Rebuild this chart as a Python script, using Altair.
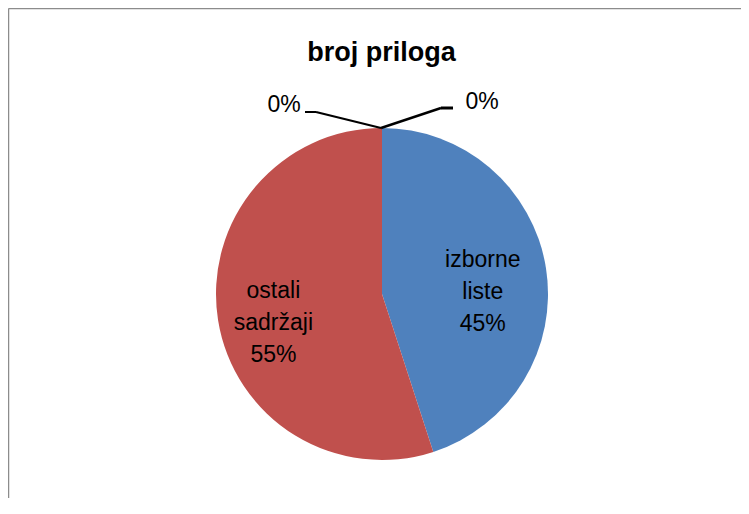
import math
import altair as alt
import pandas as pd

# ---- data ----
categories = ["izborne liste", "ostali sadržaji", "kategorija 3", "kategorija 4"]
values = [45, 55, 0, 0]
colors = ["#4F81BD", "#C0504D", "#9BBB59", "#8064A2"]
label_lines = [["izborne", "liste", "45%"], ["ostali", "sadržaji", "55%"], ["0%"], ["0%"]]
title_text = "broj priloga"

# ---- layout constants ----
W, H = 733, 490
CX, CY, R = 374, 286, 166
FONT = "Liberation Sans"

df = pd.DataFrame({
    "category": categories,
    "value": values,
    "idx": list(range(len(categories))),
    "label": ["\n".join(l) for l in label_lines],
})

theta_scale = alt.Scale(domain=[0, sum(values)])
color_scale = alt.Scale(domain=categories, range=colors)

base = alt.Chart(df)

arcs = base.mark_arc(outerRadius=R).encode(
    theta=alt.Theta("value:Q", stack=True, scale=theta_scale),
    color=alt.Color("category:N", scale=color_scale, legend=None),
    order=alt.Order("idx:Q"),
    x=alt.value(CX),
    y=alt.value(CY),
)

stacked = base.transform_stack(
    stack="value", groupby=[], as_=["t0", "t1"],
    sort=[alt.SortField(field="idx", order="ascending")],
).transform_calculate(mid="(datum.t0 + datum.t1) / 2")


def label(cat, r, dx, dy):
    return stacked.transform_filter(alt.datum.category == cat).mark_text(
        radius=r, dx=dx, dy=dy, fontSize=23, font=FONT, lineBreak="\n",
        lineHeight=32, baseline="middle", align="center", color="black",
    ).encode(
        theta=alt.Theta("mid:Q", scale=theta_scale),
        text="label:N",
        x=alt.value(CX),
        y=alt.value(CY),
    )


labels = [
    label(categories[0], 100, 2, -18),
    label(categories[1], 115, 5, -21),
    label(categories[2], R, -98, -23),
    label(categories[3], R, 100, -26),
]

# leader lines for the two 0% slices (relative to the top of the pie)
tx, ty = CX - 1, CY - R
seg = pd.DataFrame({
    "x": [tx - 76, tx - 65, tx, tx + 60],
    "y": [ty - 16, ty - 16, ty, ty - 20],
    "x2": [tx - 65, tx, tx + 60, tx + 72],
    "y2": [ty - 16, ty, ty - 20, ty - 20],
    "w": [2, 2, 2.5, 3],
})
leaders = alt.Chart(seg).mark_rule(color="black").encode(
    x=alt.X("x:Q", scale=None), y=alt.Y("y:Q", scale=None),
    x2="x2:Q", y2="y2:Q",
    strokeWidth=alt.StrokeWidth("w:Q", scale=None),
)

# chart-area frame (left and top edges visible in the reference)
frame_df = pd.DataFrame({"x": [0.5, 0.5], "y": [0.5, 0.5], "x2": [0.5, W], "y2": [H, 0.5]})
frame = alt.Chart(frame_df).mark_rule(color="#8c8c8c", strokeWidth=1.5).encode(
    x=alt.X("x:Q", scale=None), y=alt.Y("y:Q", scale=None),
    x2="x2:Q", y2="y2:Q",
)

chart = alt.layer(frame, arcs, *labels, leaders).properties(
    width=W, height=H,
    padding=0,
    autosize=alt.AutoSizeParams(type="none"),
    title=alt.TitleParams(
        text=title_text, fontSize=27, fontWeight="bold", font=FONT,
        anchor="middle", baseline="alphabetic", offset=0, dy=80, dx=7,
        color="black",
    ),
).configure_view(stroke=None)

chart.save("out.html", embed_options={"renderer": "svg", "actions": False})
